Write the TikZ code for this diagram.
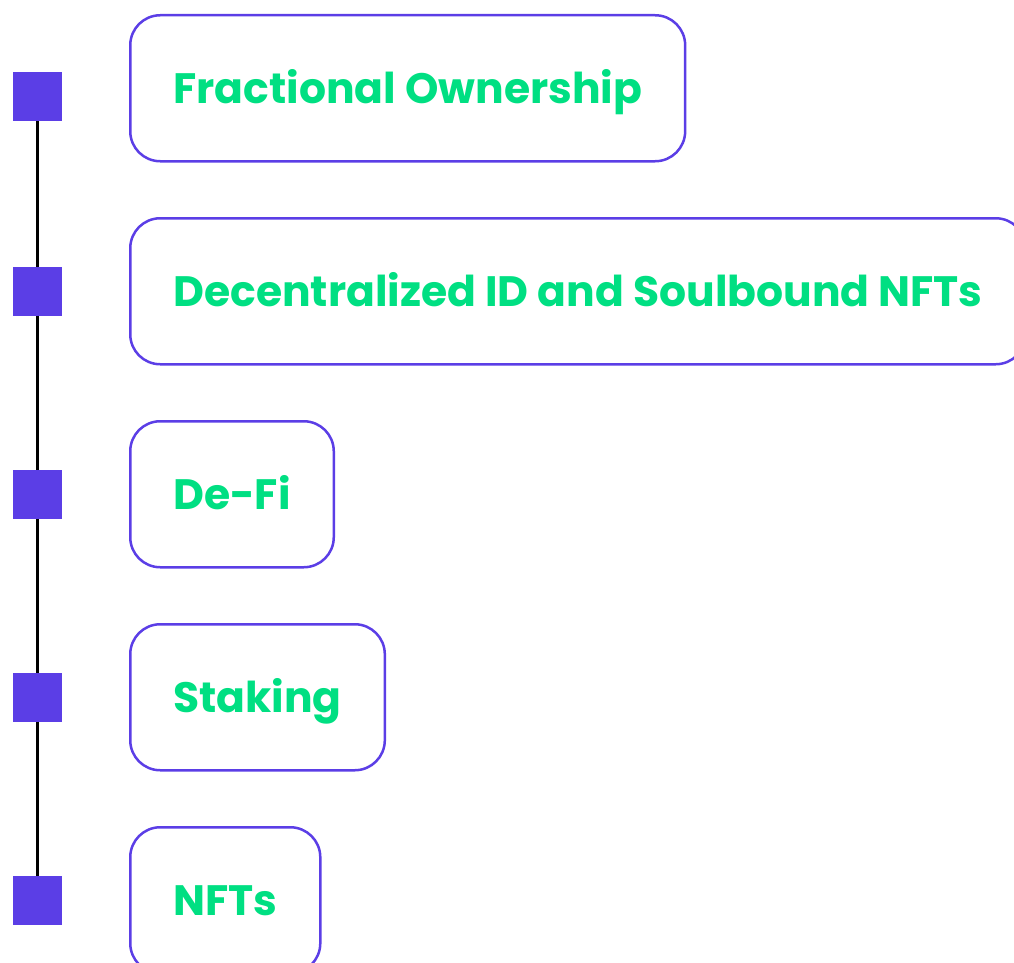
\documentclass[tikz,border=0pt]{standalone}
\usepackage{fontspec}
\setmainfont{Poppins}
\usetikzlibrary{positioning}
\definecolor{itemviolet}{HTML}{5B3EE6}
\definecolor{itemgreen}{HTML}{00DF82}

\begin{document}
\begin{tikzpicture}[x=1pt,y=-1pt,%
		   item/.style={draw=itemviolet,line width=2.5pt,rounded corners=30pt,minimum height=146pt,inner xsep=43pt,text height=30pt,text depth=0pt,text=itemgreen,font=\fontsize{42.5}{48}\selectfont\bfseries},
		   marker/.style={fill=itemviolet,minimum size=49pt,inner sep=0pt},
		   timeline/.style={line width=3pt,black}]

	    \clip (0,0) rectangle (1014,963);
	    \foreach \desc [count=\y] in {%
	       Fractional Ownership,%
	       Decentralized ID and Soulbound NFTs,%
	       De-Fi,%
	       Staking,%
	       NFTs%
	       } { \ifnum\y=1 \node[item,anchor=north west](\y) at (129,14) {\desc};
		   \node[marker,left=67pt of \y.west,yshift=-8.5pt](m-\y){};
		   \else\node[item,below=54.5pt of \z.south west,anchor=north west](\y){\desc};
		   \node[marker,left=67pt of \y.west](m-\y){};
		   \fi
		   \ifnum\y>1\draw[timeline] (m-\z.south)-- (m-\y.north);\fi
		   \global\let\z=\y% previous item
	       }
	\end{tikzpicture}
\end{document}
